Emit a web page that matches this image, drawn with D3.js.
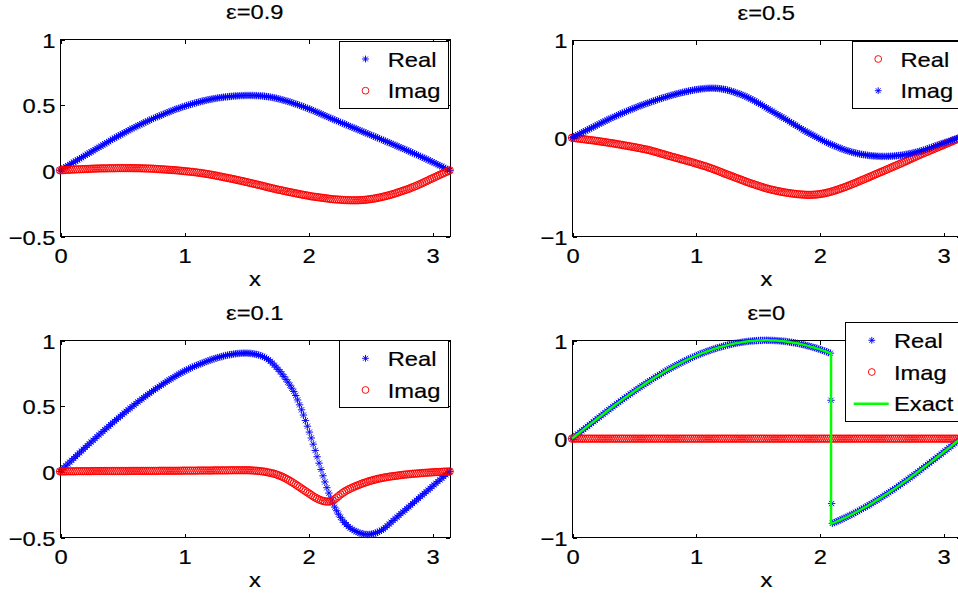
<!DOCTYPE html>
<html><head><meta charset="utf-8">
<script src="https://cdn.jsdelivr.net/npm/d3@7"></script>
<style>html,body{margin:0;padding:0;background:#fff;overflow:hidden}</style>
</head><body>
<svg id="chart" width="958" height="596"></svg>
<script>
// ---------------- DATA ----------------
const xGrid = [0,0.016,0.031,0.047,0.063,0.079,0.094,0.110,0.126,0.141,
0.157,0.173,0.188,0.204,0.220,0.236,0.251,0.267,0.283,0.298,
0.314,0.330,0.346,0.361,0.377,0.393,0.408,0.424,0.440,0.456,
0.471,0.487,0.503,0.518,0.534,0.550,0.565,0.581,0.597,0.613,
0.628,0.644,0.660,0.675,0.691,0.707,0.723,0.738,0.754,0.770,
0.785,0.801,0.817,0.833,0.848,0.864,0.880,0.895,0.911,0.927,
0.942,0.958,0.974,0.990,1.005,1.021,1.037,1.052,1.068,1.084,
1.100,1.115,1.131,1.147,1.162,1.178,1.194,1.210,1.225,1.241,
1.257,1.272,1.288,1.304,1.319,1.335,1.351,1.367,1.382,1.398,
1.414,1.429,1.445,1.461,1.477,1.492,1.508,1.524,1.539,1.555,
1.571,1.586,1.602,1.618,1.634,1.649,1.665,1.681,1.696,1.712,
1.728,1.744,1.759,1.775,1.791,1.806,1.822,1.838,1.854,1.869,
1.885,1.901,1.916,1.932,1.948,1.963,1.979,1.995,2.011,2.026,
2.042,2.058,2.073,2.089,2.105,2.121,2.136,2.152,2.168,2.183,
2.199,2.215,2.231,2.246,2.262,2.278,2.293,2.309,2.325,2.340,
2.356,2.372,2.388,2.403,2.419,2.435,2.450,2.466,2.482,2.498,
2.513,2.529,2.545,2.560,2.576,2.592,2.608,2.623,2.639,2.655,
2.670,2.686,2.702,2.718,2.733,2.749,2.765,2.780,2.796,2.812,
2.827,2.843,2.859,2.875,2.890,2.906,2.922,2.937,2.953,2.969,
2.985,3.000,3.016,3.032,3.047,3.063,3.079,3.094,3.110,3.126,
3.142];

const eps09Real = [0,0.009,0.018,0.027,0.035,0.044,0.053,0.062,0.070,0.079,
0.088,0.097,0.105,0.114,0.123,0.132,0.140,0.149,0.158,0.167,
0.175,0.184,0.193,0.202,0.210,0.219,0.228,0.237,0.245,0.254,
0.262,0.270,0.278,0.286,0.294,0.302,0.310,0.318,0.325,0.333,
0.340,0.347,0.354,0.361,0.368,0.375,0.382,0.389,0.395,0.402,
0.408,0.414,0.420,0.427,0.433,0.439,0.445,0.451,0.457,0.463,
0.468,0.473,0.478,0.483,0.488,0.493,0.497,0.502,0.506,0.511,
0.515,0.519,0.523,0.527,0.530,0.534,0.537,0.540,0.543,0.546,
0.548,0.551,0.553,0.555,0.557,0.559,0.560,0.562,0.563,0.565,
0.566,0.567,0.568,0.569,0.569,0.570,0.570,0.570,0.570,0.570,
0.569,0.569,0.568,0.567,0.566,0.564,0.562,0.560,0.558,0.555,
0.552,0.549,0.545,0.541,0.537,0.533,0.529,0.525,0.520,0.515,
0.510,0.505,0.500,0.495,0.489,0.484,0.478,0.473,0.467,0.461,
0.455,0.449,0.442,0.436,0.429,0.423,0.416,0.410,0.403,0.397,
0.390,0.384,0.378,0.372,0.365,0.359,0.353,0.347,0.340,0.334,
0.328,0.322,0.316,0.310,0.303,0.297,0.291,0.285,0.278,0.272,
0.266,0.260,0.254,0.248,0.241,0.235,0.229,0.223,0.216,0.210,
0.204,0.198,0.191,0.185,0.178,0.172,0.166,0.160,0.153,0.147,
0.140,0.133,0.126,0.120,0.113,0.106,0.099,0.093,0.086,0.079,
0.072,0.065,0.058,0.051,0.043,0.036,0.029,0.022,0.014,0.007,
0];

const eps09Imag = [0,0.001,0.002,0.003,0.004,0.005,0.005,0.006,0.007,0.008,
0.008,0.009,0.009,0.010,0.010,0.011,0.012,0.013,0.013,0.014,
0.014,0.015,0.015,0.015,0.015,0.016,0.016,0.016,0.016,0.017,
0.017,0.017,0.017,0.017,0.017,0.017,0.017,0.017,0.016,0.016,
0.016,0.016,0.015,0.015,0.014,0.014,0.013,0.013,0.012,0.011,
0.010,0.009,0.008,0.007,0.006,0.005,0.004,0.003,0.002,0.001,
0.000,-0.002,-0.003,-0.005,-0.006,-0.008,-0.009,-0.011,-0.012,-0.014,
-0.016,-0.018,-0.020,-0.022,-0.024,-0.027,-0.029,-0.032,-0.034,-0.037,
-0.040,-0.043,-0.046,-0.049,-0.052,-0.055,-0.058,-0.061,-0.064,-0.067,
-0.070,-0.074,-0.077,-0.080,-0.083,-0.087,-0.090,-0.094,-0.097,-0.101,
-0.104,-0.108,-0.111,-0.115,-0.118,-0.122,-0.126,-0.130,-0.133,-0.137,
-0.140,-0.144,-0.147,-0.150,-0.153,-0.157,-0.160,-0.163,-0.166,-0.169,
-0.172,-0.175,-0.178,-0.181,-0.184,-0.187,-0.189,-0.192,-0.195,-0.198,
-0.200,-0.202,-0.204,-0.206,-0.208,-0.210,-0.212,-0.214,-0.216,-0.218,
-0.220,-0.221,-0.222,-0.223,-0.224,-0.225,-0.226,-0.227,-0.227,-0.228,
-0.228,-0.228,-0.228,-0.228,-0.227,-0.226,-0.225,-0.224,-0.222,-0.220,
-0.218,-0.216,-0.213,-0.210,-0.207,-0.204,-0.200,-0.197,-0.193,-0.189,
-0.185,-0.181,-0.176,-0.171,-0.166,-0.161,-0.156,-0.151,-0.146,-0.141,
-0.135,-0.129,-0.123,-0.117,-0.110,-0.104,-0.097,-0.090,-0.083,-0.076,
-0.068,-0.062,-0.055,-0.048,-0.041,-0.034,-0.027,-0.021,-0.014,-0.007,
0];

const eps05Real = [0,-0.003,-0.005,-0.008,-0.010,-0.013,-0.015,-0.018,-0.020,-0.023,
-0.025,-0.028,-0.030,-0.033,-0.036,-0.039,-0.042,-0.045,-0.048,-0.051,
-0.054,-0.057,-0.060,-0.064,-0.067,-0.071,-0.074,-0.078,-0.081,-0.085,
-0.088,-0.092,-0.095,-0.099,-0.103,-0.107,-0.111,-0.115,-0.119,-0.123,
-0.128,-0.133,-0.139,-0.144,-0.150,-0.156,-0.162,-0.167,-0.173,-0.179,
-0.185,-0.190,-0.196,-0.201,-0.207,-0.212,-0.218,-0.223,-0.229,-0.234,
-0.240,-0.245,-0.251,-0.257,-0.263,-0.269,-0.275,-0.281,-0.287,-0.293,
-0.300,-0.307,-0.314,-0.321,-0.329,-0.336,-0.344,-0.352,-0.360,-0.367,
-0.375,-0.382,-0.390,-0.397,-0.405,-0.412,-0.420,-0.427,-0.435,-0.442,
-0.450,-0.457,-0.464,-0.470,-0.477,-0.483,-0.490,-0.496,-0.503,-0.509,
-0.515,-0.520,-0.525,-0.530,-0.534,-0.539,-0.543,-0.547,-0.551,-0.555,
-0.558,-0.561,-0.564,-0.567,-0.569,-0.572,-0.574,-0.576,-0.577,-0.579,
-0.580,-0.581,-0.581,-0.581,-0.580,-0.579,-0.577,-0.575,-0.572,-0.569,
-0.565,-0.561,-0.556,-0.551,-0.545,-0.539,-0.533,-0.526,-0.519,-0.512,
-0.505,-0.498,-0.490,-0.482,-0.474,-0.466,-0.458,-0.450,-0.441,-0.433,
-0.425,-0.417,-0.408,-0.400,-0.391,-0.383,-0.374,-0.366,-0.357,-0.349,
-0.340,-0.332,-0.323,-0.315,-0.306,-0.298,-0.289,-0.281,-0.272,-0.264,
-0.255,-0.246,-0.237,-0.228,-0.219,-0.210,-0.201,-0.192,-0.183,-0.174,
-0.165,-0.157,-0.149,-0.141,-0.132,-0.124,-0.116,-0.108,-0.099,-0.091,
-0.083,-0.075,-0.066,-0.058,-0.050,-0.042,-0.033,-0.025,-0.017,-0.008,
0];

const eps05Imag = [0,0.010,0.020,0.030,0.040,0.050,0.060,0.070,0.080,0.090,
0.100,0.110,0.120,0.130,0.140,0.150,0.160,0.170,0.179,0.189,
0.198,0.207,0.216,0.225,0.234,0.243,0.251,0.260,0.268,0.277,
0.285,0.293,0.301,0.309,0.317,0.325,0.332,0.339,0.346,0.353,
0.360,0.367,0.374,0.381,0.388,0.395,0.401,0.407,0.413,0.419,
0.425,0.431,0.436,0.442,0.447,0.452,0.457,0.462,0.466,0.471,
0.475,0.479,0.483,0.487,0.490,0.493,0.496,0.498,0.500,0.502,
0.503,0.504,0.504,0.504,0.503,0.502,0.500,0.497,0.494,0.490,
0.485,0.480,0.474,0.468,0.461,0.454,0.447,0.440,0.432,0.424,
0.415,0.405,0.395,0.385,0.374,0.363,0.352,0.341,0.329,0.317,
0.305,0.293,0.281,0.270,0.258,0.246,0.234,0.223,0.211,0.200,
0.188,0.176,0.164,0.152,0.140,0.128,0.116,0.104,0.092,0.080,
0.068,0.057,0.046,0.036,0.025,0.015,0.004,-0.007,-0.017,-0.028,
-0.038,-0.047,-0.056,-0.065,-0.073,-0.082,-0.090,-0.098,-0.106,-0.114,
-0.122,-0.128,-0.134,-0.140,-0.146,-0.151,-0.156,-0.161,-0.165,-0.169,
-0.172,-0.175,-0.178,-0.181,-0.183,-0.185,-0.186,-0.188,-0.189,-0.190,
-0.190,-0.190,-0.190,-0.189,-0.188,-0.187,-0.185,-0.183,-0.181,-0.179,
-0.176,-0.173,-0.169,-0.165,-0.161,-0.157,-0.152,-0.147,-0.142,-0.137,
-0.132,-0.126,-0.119,-0.112,-0.105,-0.098,-0.091,-0.084,-0.076,-0.069,
-0.062,-0.056,-0.049,-0.043,-0.036,-0.029,-0.022,-0.016,-0.009,-0.003,
0.004];

const eps01Real = [0,0.014,0.028,0.043,0.057,0.071,0.085,0.099,0.113,0.127,
0.141,0.155,0.169,0.183,0.197,0.211,0.224,0.238,0.251,0.265,
0.278,0.292,0.305,0.318,0.331,0.344,0.357,0.370,0.383,0.396,
0.408,0.421,0.433,0.446,0.458,0.470,0.482,0.494,0.506,0.518,
0.530,0.541,0.552,0.563,0.574,0.585,0.596,0.607,0.617,0.628,
0.638,0.648,0.658,0.668,0.678,0.688,0.697,0.706,0.715,0.724,
0.733,0.742,0.750,0.758,0.766,0.774,0.781,0.788,0.795,0.802,
0.808,0.814,0.820,0.826,0.832,0.838,0.843,0.849,0.854,0.859,
0.864,0.868,0.872,0.876,0.880,0.884,0.887,0.890,0.892,0.895,
0.897,0.899,0.900,0.901,0.902,0.902,0.902,0.901,0.900,0.898,
0.895,0.892,0.888,0.883,0.877,0.870,0.862,0.852,0.840,0.826,
0.810,0.795,0.778,0.761,0.742,0.723,0.702,0.681,0.658,0.635,
0.610,0.579,0.545,0.508,0.470,0.430,0.388,0.345,0.300,0.255,
0.208,0.160,0.112,0.063,0.015,-0.033,-0.080,-0.124,-0.165,-0.204,
-0.240,-0.272,-0.300,-0.326,-0.350,-0.371,-0.390,-0.406,-0.420,-0.432,
-0.442,-0.451,-0.458,-0.465,-0.470,-0.475,-0.478,-0.480,-0.481,-0.480,
-0.478,-0.475,-0.470,-0.464,-0.457,-0.449,-0.440,-0.428,-0.415,-0.401,
-0.387,-0.374,-0.361,-0.348,-0.335,-0.322,-0.309,-0.297,-0.284,-0.271,
-0.258,-0.245,-0.232,-0.219,-0.206,-0.193,-0.180,-0.168,-0.155,-0.142,
-0.129,-0.116,-0.103,-0.090,-0.077,-0.065,-0.052,-0.039,-0.026,-0.013,
0];

const eps01Imag = [0,0.000,0.000,0.000,0.001,0.001,0.001,0.001,0.001,0.002,
0.002,0.002,0.002,0.002,0.002,0.002,0.002,0.003,0.003,0.003,
0.003,0.003,0.003,0.003,0.003,0.003,0.003,0.003,0.003,0.003,
0.003,0.003,0.003,0.003,0.003,0.003,0.004,0.004,0.004,0.004,
0.004,0.004,0.004,0.004,0.004,0.004,0.004,0.004,0.004,0.004,
0.004,0.005,0.005,0.005,0.005,0.005,0.005,0.005,0.005,0.005,
0.005,0.005,0.005,0.006,0.006,0.006,0.006,0.006,0.006,0.006,
0.006,0.007,0.007,0.007,0.007,0.007,0.007,0.007,0.007,0.008,
0.008,0.008,0.008,0.008,0.008,0.008,0.008,0.009,0.009,0.009,
0.009,0.009,0.009,0.009,0.009,0.009,0.009,0.009,0.008,0.007,
0.006,0.005,0.003,0.002,0.000,-0.002,-0.005,-0.008,-0.011,-0.014,
-0.018,-0.023,-0.028,-0.034,-0.040,-0.047,-0.055,-0.063,-0.072,-0.081,
-0.090,-0.100,-0.110,-0.120,-0.130,-0.140,-0.150,-0.160,-0.170,-0.180,
-0.190,-0.199,-0.207,-0.214,-0.220,-0.225,-0.228,-0.230,-0.230,-0.227,
-0.222,-0.212,-0.200,-0.188,-0.176,-0.165,-0.155,-0.146,-0.138,-0.131,
-0.124,-0.117,-0.111,-0.105,-0.099,-0.093,-0.088,-0.083,-0.078,-0.073,
-0.069,-0.065,-0.061,-0.057,-0.054,-0.051,-0.048,-0.045,-0.043,-0.040,
-0.038,-0.036,-0.034,-0.032,-0.030,-0.028,-0.026,-0.024,-0.023,-0.021,
-0.020,-0.018,-0.017,-0.016,-0.015,-0.013,-0.012,-0.011,-0.010,-0.009,
-0.008,-0.007,-0.006,-0.005,-0.005,-0.004,-0.003,-0.002,-0.001,-0.001,
0];

const eps0Real = [0,0.016,0.031,0.047,0.063,0.079,0.094,0.110,0.125,0.141,
0.156,0.172,0.187,0.203,0.218,0.233,0.249,0.264,0.279,0.294,
0.309,0.324,0.339,0.354,0.368,0.383,0.397,0.412,0.426,0.440,
0.454,0.468,0.482,0.496,0.509,0.523,0.536,0.549,0.562,0.575,
0.588,0.600,0.613,0.625,0.637,0.649,0.661,0.673,0.685,0.696,
0.707,0.718,0.729,0.740,0.750,0.760,0.771,0.780,0.790,0.800,
0.809,0.818,0.827,0.836,0.844,0.853,0.861,0.869,0.876,0.884,
0.891,0.898,0.905,0.911,0.918,0.924,0.930,0.935,0.941,0.946,
0.951,0.956,0.960,0.965,0.969,0.972,0.976,0.979,0.982,0.985,
0.988,0.990,0.992,0.994,0.996,0.997,0.998,0.999,0.999,1.000,
1.000,1.000,0.999,0.999,0.998,0.997,0.996,0.994,0.992,0.990,
0.988,0.985,0.982,0.979,0.976,0.972,0.969,0.965,0.960,0.956,
0.951,0.946,0.941,0.935,0.930,0.924,0.918,0.911,0.905,0.898,
0.891,0.884,0.876,0.869,-0.861,-0.853,-0.844,-0.836,-0.827,-0.818,
-0.809,-0.800,-0.790,-0.780,-0.771,-0.760,-0.750,-0.740,-0.729,-0.718,
-0.707,-0.696,-0.685,-0.673,-0.661,-0.649,-0.637,-0.625,-0.613,-0.600,
-0.588,-0.575,-0.562,-0.549,-0.536,-0.523,-0.509,-0.496,-0.482,-0.468,
-0.454,-0.440,-0.426,-0.412,-0.397,-0.383,-0.368,-0.354,-0.339,-0.324,
-0.309,-0.294,-0.279,-0.264,-0.249,-0.233,-0.218,-0.203,-0.187,-0.172,
-0.156,-0.141,-0.125,-0.110,-0.094,-0.079,-0.063,-0.047,-0.031,-0.016,
0];

// extra numerical samples inside the jump (eps = 0)
const eps0JumpX = [2.094, 2.099];
const eps0JumpY = [0.39, -0.66];

const eps0Imag = [0,0,0,0,0,0,0,0,0,0, 0,0,0,0,0,0,0,0,0,0,
0,0,0,0,0,0,0,0,0,0, 0,0,0,0,0,0,0,0,0,0,
0,0,0,0,0,0,0,0,0,0, 0,0,0,0,0,0,0,0,0,0,
0,0,0,0,0,0,0,0,0,0, 0,0,0,0,0,0,0,0,0,0,
0,0,0,0,0,0,0,0,0,0, 0,0,0,0,0,0,0,0,0,0,
0,0,0,0,0,0,0,0,0,0, 0,0,0,0,0,0,0,0,0,0,
0,0,0,0,0,0,0,0,0,0, 0,0,0,0,0,0,0,0,0,0,
0,0,0,0,0,0,0,0,0,0, 0,0,0,0,0,0,0,0,0,0,
0,0,0,0,0,0,0,0,0,0, 0,0,0,0,0,0,0,0,0,0,
0,0,0,0,0,0,0,0,0,0, 0,0,0,0,0,0,0,0,0,0,
0];

// exact solution for eps = 0 (same samples as the smooth parts, plus the jump)
const eps0Exact = eps0Real;
const exactJumpX = 2.094;
const exactJumpTop = 0.866;
const exactJumpBottom = -0.866;

const panelTitles = ["ε=0.9", "ε=0.5", "ε=0.1", "ε=0"];
const xTicks = [0, 1, 2, 3];
const yTicksHalf = [-0.5, 0, 0.5, 1];
const yTicksUnit = [-1, 0, 1];
const xLabel = "x";

// ---------------- LAYOUT ----------------
const FONT = "'Liberation Sans', Arial, Helvetica, sans-serif";
const FS = 21;
const SX = 1.13;
const TEXT_STROKE = 0.2;
const BLUE = "#0000ff", RED = "#ff0000", GREEN = "#00ff00";

const panels = [
  {title: panelTitles[0], left: 60, top: 39, bottom: 236, right: 449.6, yDomain: [-0.5, 1], yTicks: yTicksHalf,
   series: [{name: "Real", y: eps09Real, marker: "star", color: BLUE},
            {name: "Imag", y: eps09Imag, marker: "circle", color: RED}],
   legend: {x: 339, y: 41, w: 109}},
  {title: panelTitles[1], left: 572, top: 39.5, bottom: 236, right: 960.6, yDomain: [-1, 1], yTicks: yTicksUnit,
   series: [{name: "Real", y: eps05Real, marker: "circle", color: RED},
            {name: "Imag", y: eps05Imag, marker: "star", color: BLUE}],
   legend: {x: 851.7, y: 41, w: 109}},
  {title: panelTitles[2], left: 60, top: 340.3, bottom: 537, right: 449.6, yDomain: [-0.5, 1], yTicks: yTicksHalf,
   series: [{name: "Real", y: eps01Real, marker: "star", color: BLUE},
            {name: "Imag", y: eps01Imag, marker: "circle", color: RED}],
   legend: {x: 339, y: 340.3, w: 109}},
  {title: panelTitles[3], left: 572, top: 340.3, bottom: 537, right: 960.6, yDomain: [-1, 1], yTicks: yTicksUnit,
   series: [{name: "Real", y: eps0Real, marker: "star", color: BLUE, extraX: eps0JumpX, extraY: eps0JumpY},
            {name: "Imag", y: eps0Imag, marker: "circle", color: RED}],
   exact: true,
   legend: {x: 845.3, y: 322.3, w: 117}}
];

const svg = d3.select("#chart");
svg.append("rect").attr("width", 958).attr("height", 596).attr("fill", "#fff");

const makeStar = (s) => { const d = s * 0.707;
  return `M${-s},0H${s}M0,${-s}V${s}M${-d},${-d}L${d},${d}M${-d},${d}L${d},${-d}`; };

function drawMarkers(g, pts, marker, color, size) {
  if (marker === "star") {
    const sp = makeStar(size);
    g.selectAll(null).data(pts).join("path")
      .attr("transform", d => `translate(${d[0]},${d[1]})`)
      .attr("d", sp).attr("fill", "none").attr("stroke", color).attr("stroke-width", 0.95);
  } else {
    g.selectAll(null).data(pts).join("circle")
      .attr("cx", d => d[0]).attr("cy", d => d[1]).attr("r", size)
      .attr("fill", "none").attr("stroke", color).attr("stroke-width", 0.95);
  }
}

const fmt = d => (d < 0 ? "\u2212" : "") + Math.abs(d);
const textStyle = sel => sel.attr("font-family", FONT).attr("font-size", FS).attr("fill", "#000")
  .attr("stroke", "#000").attr("stroke-width", TEXT_STROKE);

panels.forEach(p => {
  const x = d3.scaleLinear().domain([0, Math.PI]).range([p.left, p.right]);
  const y = d3.scaleLinear().domain(p.yDomain).range([p.bottom, p.top]);
  const g = svg.append("g");
  const cx = (p.left + p.right) / 2;

  // axes box
  g.append("rect").attr("x", p.left + 0.5).attr("y", Math.round(p.top) + 0.5)
    .attr("width", p.right - p.left).attr("height", Math.round(p.bottom) - Math.round(p.top))
    .attr("fill", "none").attr("stroke", "#000").attr("stroke-width", 1).attr("shape-rendering", "crispEdges");

  const styleAxis = (sel) => {
    sel.attr("font-family", FONT).attr("font-size", FS);
    sel.select(".domain").remove();
    sel.selectAll("line").attr("stroke", "#000").attr("shape-rendering", "crispEdges");
    sel.selectAll("text").call(textStyle);
  };

  const gb = g.append("g").attr("transform", `translate(0.5,${Math.round(p.bottom) + 0.5})`)
    .call(d3.axisBottom(x).tickValues(xTicks).tickSizeInner(-4).tickSizeOuter(0).tickPadding(12).tickFormat(fmt));
  styleAxis(gb);
  gb.selectAll("text").attr("transform", `scale(${SX},1)`);

  const gt = g.append("g").attr("transform", `translate(0.5,${Math.round(p.top) + 0.5})`)
    .call(d3.axisTop(x).tickValues(xTicks).tickSizeInner(-4).tickSizeOuter(0).tickFormat(""));
  styleAxis(gt); gt.selectAll("text").remove();

  const gl = g.append("g").attr("transform", `translate(${p.left + 0.5},0.5)`)
    .call(d3.axisLeft(y).tickValues(p.yTicks).tickSizeInner(-4).tickSizeOuter(0).tickPadding(4.4).tickFormat(fmt));
  styleAxis(gl);
  gl.selectAll("text").attr("transform", `scale(${SX},1)`).attr("dy", "0.36em");

  const gr = g.append("g").attr("transform", `translate(${p.right + 0.5},0.5)`)
    .call(d3.axisRight(y).tickValues(p.yTicks).tickSizeInner(-4).tickSizeOuter(0).tickFormat(""));
  styleAxis(gr); gr.selectAll("text").remove();

  // title and x label
  g.append("text").attr("transform", `translate(${cx},${p.top - 20}) scale(${SX},1)`)
    .attr("text-anchor", "middle").call(textStyle).text(p.title);
  g.append("text").attr("transform", `translate(${cx},${p.bottom + 49.5}) scale(${SX},1)`)
    .attr("text-anchor", "middle").call(textStyle).text(xLabel);

  // data
  p.series.forEach(s => {
    let pts = xGrid.map((xv, i) => [xv, s.y[i]]);
    if (s.extraX) {
      s.extraX.forEach((xv, i) => pts.push([xv, s.extraY[i]]));
      pts.sort((a, b) => a[0] - b[0]);
    }
    const scr = pts.map(d => [x(d[0]), y(d[1])]);
    drawMarkers(g.append("g"), scr, s.marker, s.color, 3.7);
  });

  if (p.exact) {
    const linePts = [];
    xGrid.forEach((xv, i) => { if (xv < exactJumpX) linePts.push([xv, eps0Exact[i]]); });
    linePts.push([exactJumpX, exactJumpTop]);
    linePts.push([exactJumpX, exactJumpBottom]);
    xGrid.forEach((xv, i) => { if (xv > exactJumpX) linePts.push([xv, eps0Exact[i]]); });
    g.append("path").datum(linePts)
      .attr("d", d3.line().x(d => x(d[0])).y(d => y(d[1])))
      .attr("fill", "none").attr("stroke", GREEN).attr("stroke-width", 2.5).attr("stroke-linejoin", "round");
  }

  // legend
  const items = p.series.map(s => ({name: s.name, marker: s.marker, color: s.color}));
  if (p.exact) items.push({name: "Exact", marker: "line", color: GREEN});
  const L = p.legend;
  const lh = 18 + 31.7 * (items.length - 1) + 17.3;
  const lg = svg.append("g");
  lg.append("rect").attr("x", Math.round(L.x) + 0.5).attr("y", Math.round(L.y) + 0.5)
    .attr("width", L.w).attr("height", Math.round(lh))
    .attr("fill", "#fff").attr("stroke", "#000").attr("stroke-width", 1).attr("shape-rendering", "crispEdges");
  items.forEach((it, k) => {
    const iy = L.y + 18 + 31.7 * k;
    if (it.marker === "line") {
      lg.append("line").attr("x1", L.x + 8.4).attr("x2", L.x + 43.4).attr("y1", iy).attr("y2", iy)
        .attr("stroke", it.color).attr("stroke-width", 2.5);
    } else {
      drawMarkers(lg.append("g"), [[L.x + 26.5, iy]], it.marker, it.color, 3.4);
    }
    lg.append("text").attr("transform", `translate(${L.x + 48.7},${iy}) scale(${SX},1)`)
      .attr("dy", "0.36em").call(textStyle).text(it.name);
  });
});
</script>
</body></html>
